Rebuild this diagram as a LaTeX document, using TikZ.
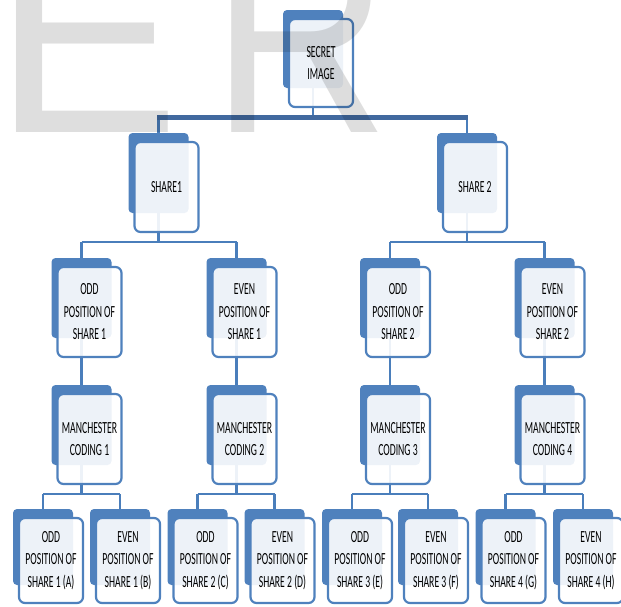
\documentclass[tikz,border=0pt]{standalone}
\usepackage{fontspec}
\setmainfont{Carlito}[FakeStretch=0.57]
\newfontfamily\wmfont{Liberation Sans}
\definecolor{boxblue}{HTML}{4F81BD}
\definecolor{lineblue}{HTML}{4A7EBB}
\definecolor{barblue}{HTML}{41699F}
\tikzset{
  backbox/.style={rectangle, fill=boxblue, draw=none, rounded corners=4pt, inner sep=0pt,
    minimum width=60pt, minimum height=#1},
  frontbox/.style={rectangle, fill=white, fill opacity=0.9, text opacity=1, draw=boxblue,
    line width=2.2pt, rounded corners=6pt, inner sep=0pt, minimum width=64pt, minimum height=#1,
    align=center, font=\fontsize{17}{22.5}\selectfont},
  conn/.style={draw=lineblue, line width=2.5pt},
  topbar/.style={draw=barblue, line width=5pt},
  wm/.style={font=\wmfont\fontsize{280}{280}\selectfont, anchor=base west, inner sep=0pt,
    text=black, text opacity=0.13}
}
% \unitbox{name}{cx}{top}{backh}{fronth}{text}
\newcommand{\unitbox}[6]{%
  \node[backbox=#4] (#1-b) at (#2, #3+#4/2) {};
  \node[frontbox=#5] (#1) at (#2+8, #3+9+#5/2) {#6};
}
\begin{document}
\begin{tikzpicture}[x=1pt, y=-1pt]
\useasboundingbox (0,0) rectangle (621,606);
\clip (0,0) rectangle (621,606);
% connectors (drawn first, behind boxes)
\coordinate (tb) at (313,117);
\draw[conn] (313,60) -- (tb);
\draw[conn] (158.5,117) -- (158.5,160);
\draw[conn] (467,117) -- (467,160);
% level 1 -> 2
\draw[conn] (158.5,180) -- (158.5,242);
\draw[conn] (467,180) -- (467,242);
\draw[conn] (81.5,242) -- (236.5,242);
\draw[conn] (390,242) -- (544.5,242);
\foreach \x in {81.5,236.5,390,544.5}{
  \draw[conn] (\x,242) -- (\x,290);
  \draw[conn] (\x,300) -- (\x,420);
  \draw[conn] (\x,440) -- (\x,494);
}
\draw[conn] (43,494) -- (120,494);
\draw[conn] (197.5,494) -- (274.5,494);
\draw[conn] (352,494) -- (428,494);
\draw[conn] (505.5,494) -- (583,494);
\foreach \x in {43,120,197.5,274.5,352,428,505.5,583}{
  \draw[conn] (\x,494) -- (\x,540);
}
\draw[topbar] (157.3,117) -- (468.2,117);
% boxes
\unitbox{secret}{313}{10}{78}{88}{SECRET\\IMAGE}
\unitbox{share1}{158.5}{133}{80}{90}{SHARE1}
\unitbox{share2}{467}{133}{80}{90}{SHARE 2}
\unitbox{odd1}{81.5}{258}{80}{90}{ODD\\POSITION OF\\SHARE 1}
\unitbox{even1}{236.5}{258}{80}{90}{EVEN\\POSITION OF\\SHARE 1}
\unitbox{odd2}{390}{258}{80}{90}{ODD\\POSITION OF\\SHARE 2}
\unitbox{even2}{544.5}{258}{80}{90}{EVEN\\POSITION OF\\SHARE 2}
\unitbox{man1}{81.5}{385}{80}{90}{MANCHESTER\\CODING 1}
\unitbox{man2}{236.5}{385}{80}{90}{MANCHESTER\\CODING 2}
\unitbox{man3}{390}{385}{80}{90}{MANCHESTER\\CODING 3}
\unitbox{man4}{544.5}{385}{80}{90}{MANCHESTER\\CODING 4}
\unitbox{leafA}{43}{509}{76}{85}{ODD\\POSITION OF\\SHARE 1 (A)}
\unitbox{leafB}{120}{509}{76}{85}{EVEN\\POSITION OF\\SHARE 1 (B)}
\unitbox{leafC}{197.5}{509}{76}{85}{ODD\\POSITION OF\\SHARE 2 (C)}
\unitbox{leafD}{274.5}{509}{76}{85}{EVEN\\POSITION OF\\SHARE 2 (D)}
\unitbox{leafE}{352}{509}{76}{85}{ODD\\POSITION OF\\SHARE 3 (E)}
\unitbox{leafF}{428}{509}{76}{85}{EVEN\\POSITION OF\\SHARE 3 (F)}
\unitbox{leafG}{505.5}{509}{76}{85}{ODD\\POSITION OF\\SHARE 4 (G)}
\unitbox{leafH}{583}{509}{76}{85}{EVEN\\POSITION OF\\SHARE 4 (H)}
% watermark
\node[wm] (wmE) at (-6.6,132) {E};
\node[wm] (wmR) at (211,132) {\scalebox{0.88}[1]{R}};
\end{tikzpicture}
\end{document}
